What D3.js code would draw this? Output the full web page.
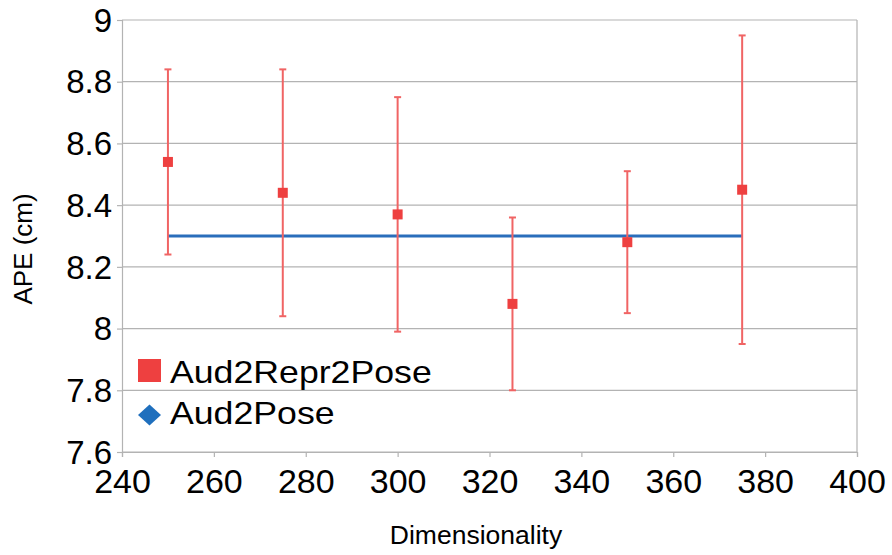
<!DOCTYPE html>
<html><head><meta charset="utf-8">
<script src="https://cdn.jsdelivr.net/npm/d3@7"></script>
<style>body{margin:0;background:#fff}svg{display:block}text{font-family:"Liberation Sans",Arial,sans-serif;fill:#000}</style>
</head><body>
<svg id="c" width="892" height="555"></svg>
<script>
const dims = [250, 275, 300, 325, 350, 375];
const repr = [8.54, 8.44, 8.37, 8.08, 8.28, 8.45];
const reprHi = [8.84, 8.84, 8.75, 8.36, 8.51, 8.95];
const reprLo = [8.24, 8.04, 7.99, 7.80, 8.05, 7.95];
const baseX = [250, 375];
const baseY = [8.30, 8.30];
const xTicks = [240, 260, 280, 300, 320, 340, 360, 380, 400];
const yTicks = [7.6, 7.8, 8, 8.2, 8.4, 8.6, 8.8, 9];
const seriesNames = ["Aud2Repr2Pose", "Aud2Pose"];

const W = 892, H = 555, m = {l:122, t:20, r:35, b:103};
const svg = d3.select("#c");
const x = d3.scaleLinear().domain([240, 400]).range([m.l, W - m.r]);
const y = d3.scaleLinear().domain([7.6, 9]).range([H - m.b, m.t]);
const grid = "#b3b3b3";

// grid lines
svg.append("g").selectAll("line").data(yTicks).join("line")
  .attr("x1", x(240)).attr("x2", x(400))
  .attr("y1", d => y(d)).attr("y2", d => y(d))
  .attr("stroke", grid).attr("stroke-width", 1.2);
// right border
svg.append("line").attr("x1", x(400)).attr("x2", x(400)).attr("y1", y(9)).attr("y2", y(7.6))
  .attr("stroke", grid).attr("stroke-width", 1.2);

// axes
const xAx = svg.append("g").attr("transform", `translate(0,${y(7.6)})`)
  .call(d3.axisBottom(x).tickValues(xTicks).tickSize(5).tickPadding(12).tickFormat(d3.format("d")));
const yAx = svg.append("g").attr("transform", `translate(${x(240)},0)`)
  .call(d3.axisLeft(y).tickValues(yTicks).tickSize(5).tickPadding(5).tickFormat(d => String(+d.toFixed(1))));
[xAx, yAx].forEach(g => {
  g.select(".domain").attr("stroke", grid).attr("stroke-width", 1.2);
  g.selectAll(".tick line").attr("stroke", grid).attr("stroke-width", 1.2);
  g.selectAll("text").attr("font-family", '"Liberation Sans",Arial,sans-serif').attr("fill", "#000");
});
xAx.selectAll("text").attr("font-size", 34);
yAx.selectAll("text").attr("font-size", 33).attr("dy", "0.34em");

// baseline line
svg.append("path").datum(baseX.map((d, i) => [d, baseY[i]]))
  .attr("d", d3.line().x(d => x(d[0])).y(d => y(d[1])))
  .attr("stroke", "#2a6ebb").attr("stroke-width", 3).attr("fill", "none");

// error bars
const eb = svg.append("g").attr("stroke", "#f06464").attr("stroke-width", 2);
dims.forEach((d, i) => {
  eb.append("line").attr("x1", x(d)).attr("x2", x(d)).attr("y1", y(reprHi[i])).attr("y2", y(reprLo[i]));
  eb.append("line").attr("x1", x(d) - 3.5).attr("x2", x(d) + 3.5).attr("y1", y(reprHi[i])).attr("y2", y(reprHi[i]));
  eb.append("line").attr("x1", x(d) - 3.5).attr("x2", x(d) + 3.5).attr("y1", y(reprLo[i])).attr("y2", y(reprLo[i]));
});
// markers
svg.append("g").selectAll("rect").data(dims).join("rect")
  .attr("x", d => x(d) - 5).attr("y", (d, i) => y(repr[i]) - 5)
  .attr("width", 10).attr("height", 10).attr("fill", "#ee4040");

// axis titles
svg.append("text").attr("x", 476).attr("y", 544).attr("text-anchor", "middle")
  .attr("font-size", 26.5).text("Dimensionality");
svg.append("text").attr("transform", `translate(32,249) rotate(-90)`)
  .attr("text-anchor", "middle").attr("font-size", 26).text("APE (cm)");

// legend
const lg = svg.append("g");
lg.append("rect").attr("x", 138).attr("y", 359).attr("width", 23).attr("height", 23).attr("fill", "#ee4040");
lg.append("text").attr("transform", "translate(170,383) scale(1.115,1)").attr("font-size", 32).text(seriesNames[0]);
lg.append("path").attr("d", "M149.5,404.5L161,415L149.5,425.5L138,415Z").attr("fill", "#1f6fbd");
lg.append("text").attr("transform", "translate(170,424) scale(1.115,1)").attr("font-size", 32).text(seriesNames[1]);
</script>
</body></html>
